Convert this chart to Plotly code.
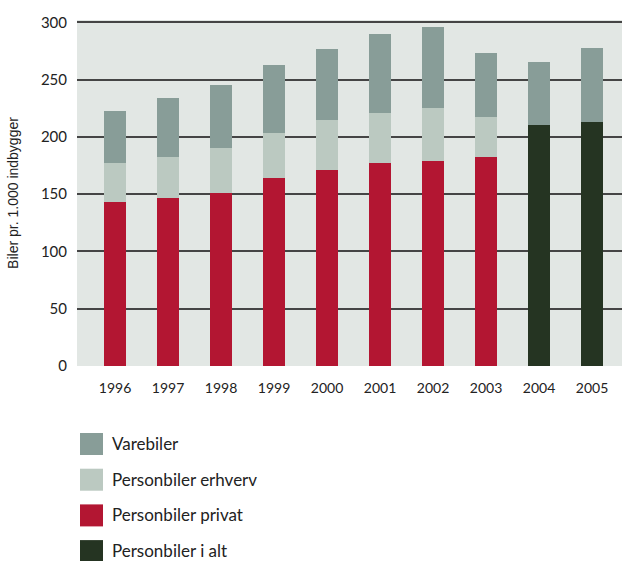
import plotly.graph_objects as go

# Cars per 1,000 inhabitants, Denmark
years = ["1996", "1997", "1998", "1999", "2000", "2001", "2002", "2003", "2004", "2005"]
personbiler_privat = [143, 147, 151, 164, 171, 177, 179, 182, None, None]
personbiler_erhverv = [34, 35, 39, 39, 44, 44, 46, 35, None, None]
varebiler = [46, 52, 55, 60, 62, 69, 71, 56, 55, 65]
personbiler_i_alt = [None, None, None, None, None, None, None, None, 210, 213]

y_ticks = [0, 50, 100, 150, 200, 250, 300]
y_title = "Biler pr. 1.000 indbygger"

# stacking order (bottom to top)
series = [
    ("Personbiler i alt", personbiler_i_alt, "#253422"),
    ("Personbiler privat", personbiler_privat, "#b31632"),
    ("Personbiler erhverv", personbiler_erhverv, "#bbc9c1"),
    ("Varebiler", varebiler, "#889d98"),
]
# order shown in the key
legend_order = ["Varebiler", "Personbiler erhverv", "Personbiler privat", "Personbiler i alt"]

W, H = 622, 561
ML, MR, MT, MB = 77, 0, 20, 195
plot_h = H - MT - MB

fig = go.Figure()
for name, vals, color in series:
    fig.add_trace(go.Bar(
        x=years, y=vals, name=name, marker_color=color,
        marker_line_width=0, width=0.415,
    ))


def py(pix):
    """Convert a page pixel row into paper y."""
    return (H - MB - pix) / plot_h


def px(pix):
    return (pix - ML) / (W - ML - MR)


colors = {n: c for n, _, c in series}
row0, step = 444, 35.7
for i, name in enumerate(legend_order):
    cy = row0 + i * step
    fig.add_shape(type="rect", xref="paper", yref="paper",
                  x0=px(80), x1=px(103), y0=py(cy - 11), y1=py(cy + 11),
                  fillcolor=colors[name], line_width=0)
    fig.add_annotation(xref="paper", yref="paper", x=px(111), y=py(cy + 11),
                       text=name, showarrow=False, xanchor="left", yanchor="bottom",
                       borderpad=0,
                       font=dict(family="Lato", size=17, color="#222222"))

fig.update_layout(
    width=W, height=H,
    margin=dict(l=ML, r=MR, t=MT, b=MB),
    paper_bgcolor="white",
    plot_bgcolor="#e2e7e4",
    barmode="stack",
    showlegend=False,
    font=dict(family="Lato", color="#222222"),
)
fig.update_xaxes(
    type="category", range=[-0.717, 9.566],
    showgrid=False, zeroline=False, showline=False,
    ticks="", ticklabelstandoff=12,
    tickfont=dict(family="Lato", size=14, color="#222222"),
)
fig.update_yaxes(
    range=[0, 302], tickvals=y_ticks, ticks="",
    showgrid=True, gridcolor="#454545", gridwidth=1.5,
    zeroline=False, showline=False, ticklabelstandoff=9,
    tickfont=dict(family="Lato", size=15, color="#222222"),
    title=dict(text=y_title, standoff=18,
               font=dict(family="Liberation Sans", size=14, color="#222222")),
)

fig.write_html("out.html")
